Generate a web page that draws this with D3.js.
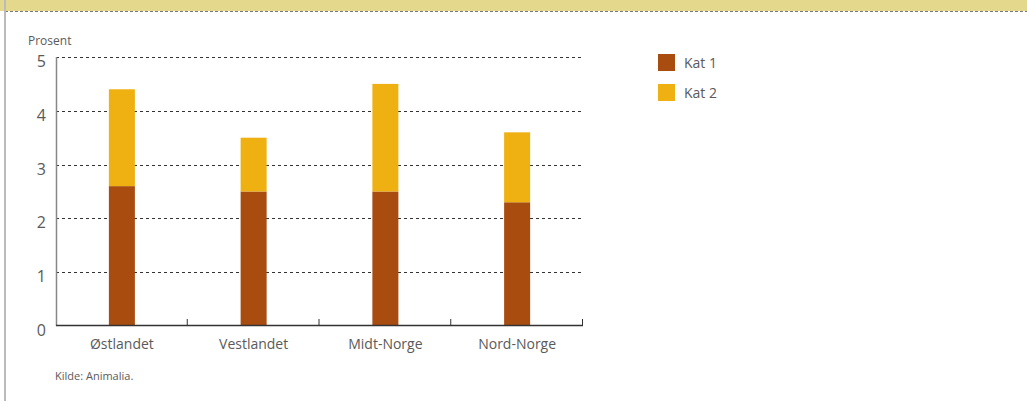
<!DOCTYPE html>
<html>
<head>
<meta charset="utf-8">
<script src="https://cdn.jsdelivr.net/npm/d3@7/dist/d3.min.js"></script>
<style>
  html, body { margin: 0; padding: 0; background: #fff; }
  svg { display: block; font-family: "Open Sans", "DejaVu Sans", sans-serif; }
</style>
</head>
<body>
<svg id="chart" width="1027" height="403"></svg>
<script>
// Regions and the two stacked categories (percent)
const regions = ["Østlandet", "Vestlandet", "Midt-Norge", "Nord-Norge"];
const seriesNames = ["Kat 1", "Kat 2"];
const kat1 = [2.6, 2.5, 2.5, 2.3];
const kat2 = [1.8, 1.0, 2.0, 1.3];
const yTicks = [0, 1, 2, 3, 4, 5];
const colors = ["#A84C10", "#EFB112"];

const svg = d3.select("#chart");
const W = 1027, H = 403;

// Header band and frame
svg.append("rect").attr("x", 0).attr("y", 0).attr("width", W).attr("height", 11).attr("fill", "#E3D88B");
svg.append("line").attr("x1", 5).attr("x2", W).attr("y1", 11.5).attr("y2", 11.5)
  .attr("stroke", "#777").attr("stroke-dasharray", "3,2").attr("stroke-width", 1);
svg.append("line").attr("x1", 5).attr("x2", 5).attr("y1", 0).attr("y2", 401)
  .attr("stroke", "#bbb").attr("stroke-width", 2);

const x = d3.scaleBand().domain(regions).range([56, 583]).paddingInner(0).paddingOuter(0);
const y = d3.scaleLinear().domain([0, 5]).range([326, 57]);

// Gridlines
svg.append("g").selectAll("line").data(yTicks.filter(t => t > 0)).join("line")
  .attr("x1", 56).attr("x2", 583)
  .attr("y1", d => Math.round(y(d)) + 0.5).attr("y2", d => Math.round(y(d)) + 0.5)
  .attr("stroke", "#333").attr("stroke-width", 1).attr("stroke-dasharray", "3,3");

// Y tick labels
svg.append("g").selectAll("text").data(yTicks).join("text")
  .attr("x", 46).attr("y", d => y(d) + 10)
  .attr("text-anchor", "end").attr("font-size", 16).attr("fill", "#5a5a5a")
  .text(d => d);

svg.append("text").attr("x", 28).attr("y", 45).attr("font-size", 12).attr("fill", "#5a5a5a").text("Prosent");

// Stacked bars
const stackData = regions.map((r, i) => ({ region: r, "Kat 1": kat1[i], "Kat 2": kat2[i] }));
const stacked = d3.stack().keys(seriesNames)(stackData);
const barW = 26;
svg.append("g").selectAll("g").data(stacked).join("g")
  .attr("fill", (d, i) => colors[i])
  .selectAll("rect").data(d => d).join("rect")
  .attr("x", d => x(d.data.region) + x.bandwidth() / 2 - barW / 2)
  .attr("width", barW)
  .attr("y", d => y(d[1]))
  .attr("height", d => y(d[0]) - y(d[1]));

// Y axis line
svg.append("line").attr("x1", 56.5).attr("x2", 56.5).attr("y1", 57).attr("y2", 326)
  .attr("stroke", "#888").attr("stroke-width", 1.5);

// X axis with inward ticks at band boundaries
const bounds = regions.map(r => x(r)).concat([583]);
svg.append("line").attr("x1", 56).attr("x2", 583).attr("y1", 325.5).attr("y2", 325.5)
  .attr("stroke", "#333").attr("stroke-width", 1.5);
svg.append("g").selectAll("line").data(bounds.slice(1)).join("line")
  .attr("x1", d => d - 0.5).attr("x2", d => d - 0.5).attr("y1", 319).attr("y2", 326)
  .attr("stroke", "#333").attr("stroke-width", 1);

svg.append("g").selectAll("text").data(regions).join("text")
  .attr("x", d => x(d) + x.bandwidth() / 2).attr("y", 349)
  .attr("text-anchor", "middle").attr("font-size", 14).attr("fill", "#5a5a5a")
  .text(d => d);

svg.append("text").attr("x", 55).attr("y", 380).attr("font-size", 11).attr("fill", "#5a5a5a").text("Kilde: Animalia.");

// Legend
const legend = svg.append("g").selectAll("g").data(seriesNames).join("g")
  .attr("transform", (d, i) => `translate(658, ${54 + i * 30})`);
legend.append("rect").attr("width", 17).attr("height", 17).attr("fill", (d, i) => colors[i]);
legend.append("text").attr("x", 26).attr("y", 14).attr("font-size", 14).attr("fill", "#5a5a5a").text(d => d);
</script>
</body>
</html>
